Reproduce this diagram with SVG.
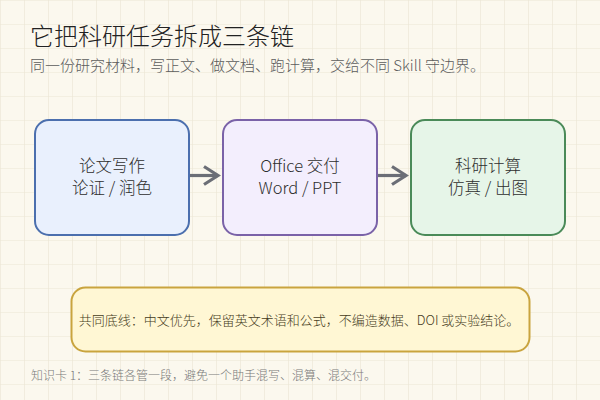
<svg xmlns="http://www.w3.org/2000/svg" width="600" height="400" viewBox="0 0 600 400">
<defs>
<pattern id="grid" width="24" height="24" patternUnits="userSpaceOnUse">
<path d="M24 0H0V24" fill="none" stroke="#ebe5d3" stroke-width="1.2"/>
</pattern>
<marker id="arr" viewBox="0 0 12 12" refX="10" refY="6" markerWidth="12" markerHeight="12" markerUnits="userSpaceOnUse" orient="auto" overflow="visible">
<path d="M-4 -3 L10 6 L-4 15" fill="none" stroke="#6b6e76" stroke-width="3.2"/>
</marker>
<style>
text{font-family:"Noto Sans CJK SC","Noto Sans",sans-serif;font-weight:300;}
.title{font-size:24px;fill:#222;}
.sub{font-size:15px;fill:#5c5c5c;}
.node rect{stroke-width:2;}
.lbl{font-size:16.5px;fill:#2e2e2e;text-anchor:middle;}
.conn{stroke:#6b6e76;stroke-width:3.2;fill:none;}
.note{font-size:13px;fill:#463c22;text-anchor:middle;}
.foot{font-size:12px;fill:#7a7a7a;}
</style>
</defs>
<rect width="600" height="400" fill="#fbf8ee"/>
<rect width="600" height="400" fill="url(#grid)"/>
<text class="title" x="30" y="45">它把科研任务拆成三条链</text>
<text class="sub" x="30" y="71">同一份研究材料，写正文、做文档、跑计算，交给不同 Skill 守边界。</text>
<g id="node-writing" class="node">
<rect x="35" y="120" width="154" height="115" rx="14" fill="#e9f0fd" stroke="#4b6fae"/>
<text class="lbl" x="112" y="172">论文写作</text>
<text class="lbl" x="112" y="194">论证 / 润色</text>
</g>
<g id="node-office" class="node">
<rect x="223" y="120" width="154" height="115" rx="14" fill="#f3eefd" stroke="#7a62a8"/>
<text class="lbl" x="300" y="172">Office 交付</text>
<text class="lbl" x="300" y="194">Word / PPT</text>
</g>
<g id="node-compute" class="node">
<rect x="411" y="120" width="154" height="115" rx="14" fill="#e6f5e8" stroke="#4a8a58"/>
<text class="lbl" x="488" y="172">科研计算</text>
<text class="lbl" x="488" y="194">仿真 / 出图</text>
</g>
<g id="connectors">
<line class="conn" x1="190" y1="175.5" x2="218" y2="175.5" marker-end="url(#arr)"/>
<line class="conn" x1="378" y1="175.5" x2="406" y2="175.5" marker-end="url(#arr)"/>
</g>
<g id="note-baseline" class="node">
<rect x="71.5" y="287.5" width="458" height="64" rx="14" fill="#fff7d4" stroke="#c9a43e"/>
<text class="note" x="299" y="325">共同底线：中文优先，保留英文术语和公式，不编造数据、DOI 或实验结论。</text>
</g>
<text class="foot" x="31" y="380">知识卡 1：三条链各管一段，避免一个助手混写、混算、混交付。</text>
</svg>
